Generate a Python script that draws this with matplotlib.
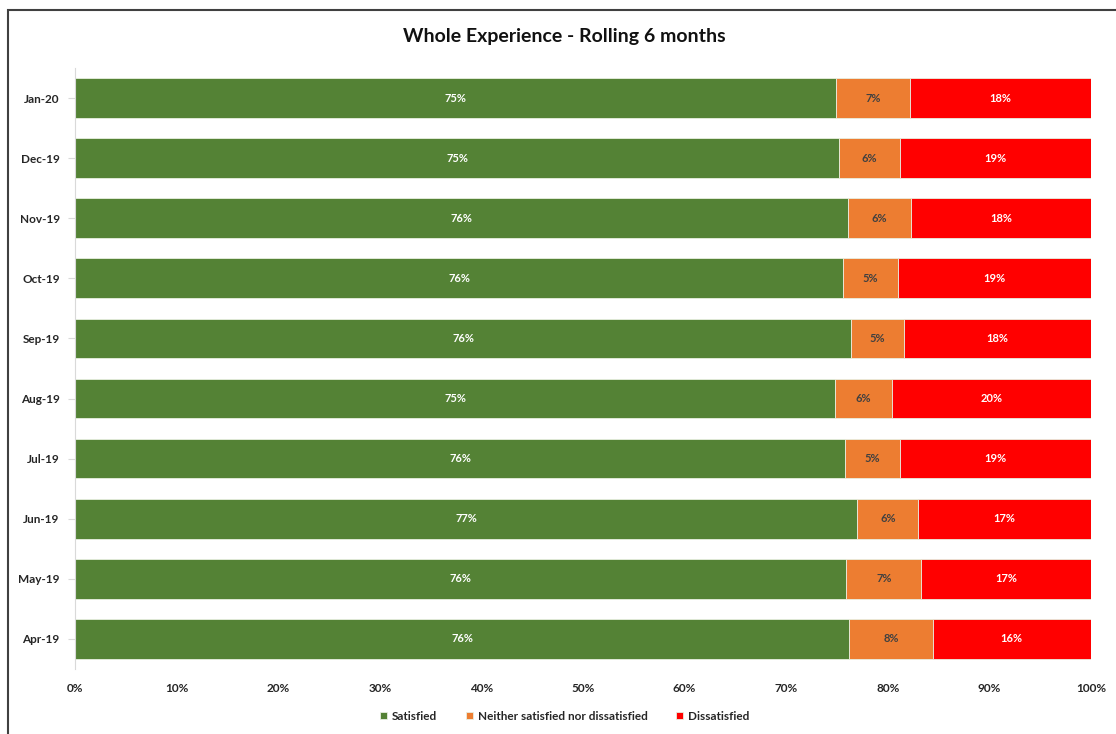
import matplotlib.pyplot as plt
import numpy as np
from matplotlib.patches import Rectangle
from matplotlib.ticker import FuncFormatter, MultipleLocator

# bottom to top, as drawn
months = ["Apr-19", "May-19", "Jun-19", "Jul-19", "Aug-19",
          "Sep-19", "Oct-19", "Nov-19", "Dec-19", "Jan-20"]
satisfied = [76.2, 75.9, 77.0, 75.8, 74.8, 76.4, 75.6, 76.1, 75.2, 74.9]
neither = [8.2, 7.4, 6.0, 5.4, 5.6, 5.2, 5.4, 6.2, 6.0, 7.3]
dissatisfied = [15.6, 16.7, 17.0, 18.8, 19.6, 18.4, 19.0, 17.7, 18.8, 17.8]

series_names = ["Satisfied", "Neither satisfied nor dissatisfied", "Dissatisfied"]
colors = ["#548235", "#ED7D31", "#FF0000"]
label_colors = ["white", "#404040", "white"]

plt.rcParams["font.family"] = ["Lato", "DejaVu Sans"]

fig = plt.figure(figsize=(11.16, 7.34), dpi=100)
ax = fig.add_axes([0.0672, 0.0886, 0.9104, 0.8188])

y = np.arange(len(months))
left = np.zeros(len(months))
for name, vals, col, lcol in zip(series_names, [satisfied, neither, dissatisfied],
                                 colors, label_colors):
    vals = np.array(vals)
    bars = ax.barh(y, vals, left=left, height=0.66, color=col, label=name,
                   edgecolor="#e8efe0", linewidth=0.6)
    for b, v in zip(bars, vals):
        ax.text(b.get_x() + b.get_width() / 2, b.get_y() + b.get_height() / 2,
                f"{v:.0f}%", ha="center", va="center", color=lcol,
                fontsize=8, fontweight="bold")
    left += vals

ax.set_xlim(0, 100)
ax.set_ylim(-0.5, len(months) - 0.5)
ax.set_yticks(y)
ax.set_yticklabels(months)
ax.xaxis.set_major_locator(MultipleLocator(10))
ax.xaxis.set_major_formatter(FuncFormatter(lambda x, _: f"{x:.0f}%"))
ax.tick_params(axis="x", length=0, pad=10, labelsize=8.5, labelcolor="#262626")
ax.tick_params(axis="y", length=5, color="#d9d9d9", pad=6, labelsize=8.5,
               labelcolor="#262626")
for lab in ax.get_xticklabels() + ax.get_yticklabels():
    lab.set_fontweight("bold")
for s in ["top", "right", "bottom"]:
    ax.spines[s].set_visible(False)
ax.spines["left"].set_color("#d9d9d9")

fig.text(0.506, 0.95, "Whole Experience - Rolling 6 months", ha="center",
         va="center", fontsize=14, fontweight="bold", color="#111111")

leg = fig.legend(loc="center", bbox_to_anchor=(0.506, 0.024), ncol=3,
                 frameon=False, fontsize=8.5, handlelength=0.6,
                 handleheight=0.6, handletextpad=0.4, columnspacing=2.4)
for t in leg.get_texts():
    t.set_fontweight("bold")
    t.set_color("#262626")

# outer chart frame (runs off the right and bottom edges)
fig.patches.append(Rectangle((8 / 1116, -0.05), 1.2, 1 - 10 / 734 + 0.05,
                             transform=fig.transFigure, fill=False,
                             edgecolor="#404040", linewidth=1.5))

fig.savefig("out.png", dpi=100)
